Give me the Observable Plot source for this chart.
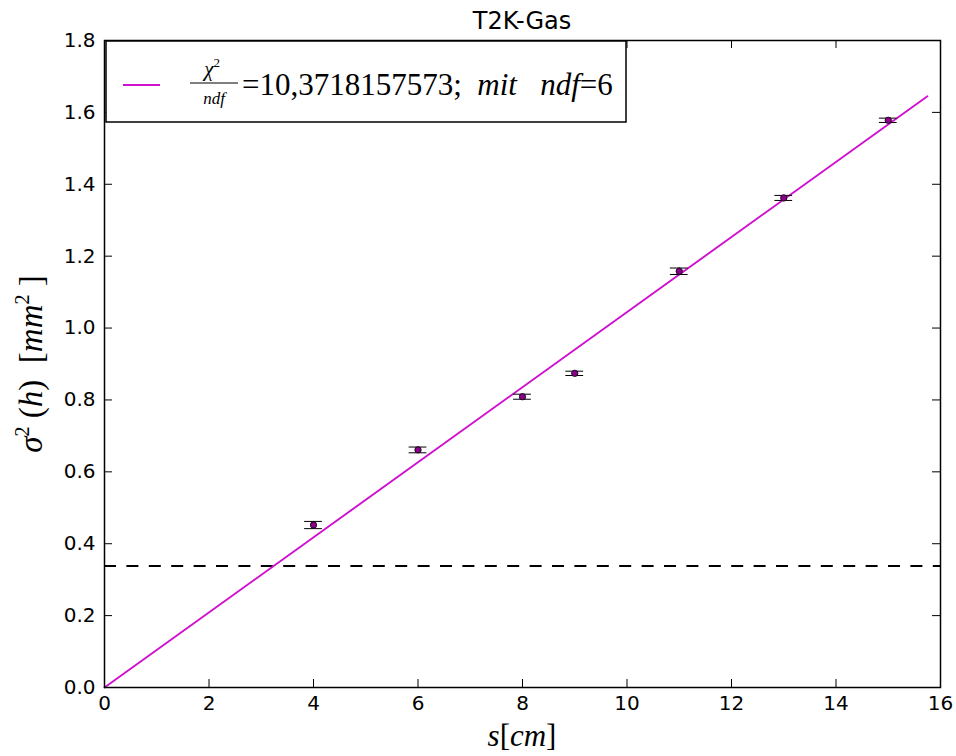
<!DOCTYPE html>
<html><head><meta charset="utf-8">
<script src="https://cdn.jsdelivr.net/npm/d3@7"></script>
<script src="https://cdn.jsdelivr.net/npm/@observablehq/plot@0.6"></script>
<style>body{margin:0;background:#fff;} svg{display:block;}</style>
</head><body><div id="chart"></div>
<script>
const sValues = [4, 6, 8, 9, 11, 13, 15];
const sigmaValues = [0.452, 0.661, 0.809, 0.874, 1.158, 1.362, 1.578];
const sigmaErrors = [0.010, 0.008, 0.007, 0.006, 0.009, 0.007, 0.006];
const fitS = [0, 15.75];
const fitSigma = [0, 1.645];
const thresholdValue = 0.338;
const xTicks = [0, 2, 4, 6, 8, 10, 12, 14, 16];
const yTicks = [0, 0.2, 0.4, 0.6, 0.8, 1.0, 1.2, 1.4, 1.6, 1.8];
const titleText = "T2K-Gas";

const pts = sValues.map((s, i) => ({s, v: sigmaValues[i], e: sigmaErrors[i]}));
const caps = pts.flatMap(d => [{x1: d.s - 0.17, x2: d.s + 0.17, y: d.v - d.e}, {x1: d.s - 0.17, x2: d.s + 0.17, y: d.v + d.e}]);
const fit = fitS.map((s, i) => ({s, v: fitSigma[i]}));
const magenta = "#cf10cf";

const W = 956, H = 756, mL = 104, mR = 16, mT = 40, mB = 69;
const fh = H - mT - mB, fw = W - mL - mR;

const chart = Plot.plot({
  width: W, height: H,
  marginLeft: mL, marginRight: mR, marginTop: mT, marginBottom: mB,
  style: {fontFamily: "DejaVu Sans", fontSize: "20px", color: "#000", background: "#fff"},
  x: {domain: [0, 16], label: null},
  y: {domain: [0, 1.8], label: null},
  marks: [
    Plot.ruleY([thresholdValue], {stroke: "black", strokeWidth: 2, strokeDasharray: "12,10.4"}),
    Plot.line(fit, {x: "s", y: "v", stroke: magenta, strokeWidth: 1.9}),
    Plot.ruleX(pts, {x: "s", y1: d => d.v - d.e, y2: d => d.v + d.e, stroke: "black", strokeWidth: 1}),
    Plot.ruleY(caps, {x1: "x1", x2: "x2", y: "y", stroke: "black", strokeWidth: 1}),
    Plot.dot(pts, {x: "s", y: "v", r: 3.2, fill: "#8a008a", stroke: "black", strokeWidth: 0.8}),
    // inward ticks on all four sides
    Plot.ruleX(xTicks, {x: d => d, insetTop: fh - 8, stroke: "black"}),
    Plot.ruleX(xTicks, {x: d => d, insetBottom: fh - 8, stroke: "black"}),
    Plot.ruleY(yTicks, {y: d => d, insetRight: fw - 8, stroke: "black"}),
    Plot.ruleY(yTicks, {y: d => d, insetLeft: fw - 8, stroke: "black"}),
    Plot.axisX({ticks: xTicks, tickSize: 0, tickPadding: 8, fontSize: 20, tickFormat: d3.format("d")}),
    Plot.axisY({ticks: yTicks, tickSize: 0, tickPadding: 9, fontSize: 20, tickFormat: d3.format(".1f")}),
    Plot.frame({stroke: "black", strokeWidth: 1.5})
  ]
});
document.getElementById("chart").append(chart);

const svg = d3.select(chart);
const serif = "'Liberation Serif', 'DejaVu Serif', serif";
// title
svg.append("text").attr("x", mL + fw / 2).attr("y", 29).attr("text-anchor", "middle")
  .attr("font-family", "DejaVu Sans").attr("font-size", 24).text(titleText);
// x label
const xl = svg.append("text").attr("x", mL + fw / 2).attr("y", 746).attr("text-anchor", "middle")
  .attr("font-family", serif).attr("font-size", 31);
xl.append("tspan").attr("font-style", "italic").text("s");
xl.append("tspan").text("[");
xl.append("tspan").attr("font-style", "italic").text("cm");
xl.append("tspan").text("]");
// y label
const yl = svg.append("text").attr("transform", "translate(42,364) rotate(-90)").attr("text-anchor", "middle")
  .attr("font-family", serif).attr("font-size", 33);
yl.append("tspan").attr("font-style", "italic").text("σ");
yl.append("tspan").attr("font-size", 20).attr("dy", -13).text("2");
yl.append("tspan").attr("dy", 13).text(" (");
yl.append("tspan").attr("font-style", "italic").text("h");
yl.append("tspan").text(")  [");
yl.append("tspan").attr("font-style", "italic").text("mm");
yl.append("tspan").attr("font-size", 20).attr("dy", -13).text("2");
yl.append("tspan").attr("dy", 13).text(" ]");
// legend
const lg = svg.append("g").attr("text-anchor", "start");
lg.append("rect").attr("x", 106).attr("y", 41).attr("width", 520).attr("height", 81)
  .attr("fill", "white").attr("stroke", "black").attr("stroke-width", 1.5);
lg.append("line").attr("x1", 123).attr("x2", 160).attr("y1", 85).attr("y2", 85)
  .attr("stroke", magenta).attr("stroke-width", 1.9);
const num = lg.append("text").attr("x", 212).attr("y", 76).attr("text-anchor", "middle").attr("font-family", serif)
  .attr("font-size", 21).attr("font-style", "italic");
num.append("tspan").text("χ");
num.append("tspan").attr("font-size", 13).attr("font-style", "normal").attr("dy", -9).text("2");
lg.append("line").attr("x1", 190).attr("x2", 238).attr("y1", 83).attr("y2", 83).attr("stroke", "black").attr("stroke-width", 1.2);
lg.append("text").attr("x", 214).attr("y", 104).attr("text-anchor", "middle").attr("font-family", serif)
  .attr("font-size", 17).attr("font-style", "italic").text("ndf");
const lt = lg.append("text").attr("x", 242).attr("y", 95).attr("text-anchor", "start").attr("font-family", serif).attr("font-size", 31);
lt.append("tspan").text("=10,3718157573;  ");
lt.append("tspan").attr("font-style", "italic").text("mit");
lt.append("tspan").text("   ");
lt.append("tspan").attr("font-style", "italic").text("ndf");
lt.append("tspan").text("=6");
</script></body></html>
